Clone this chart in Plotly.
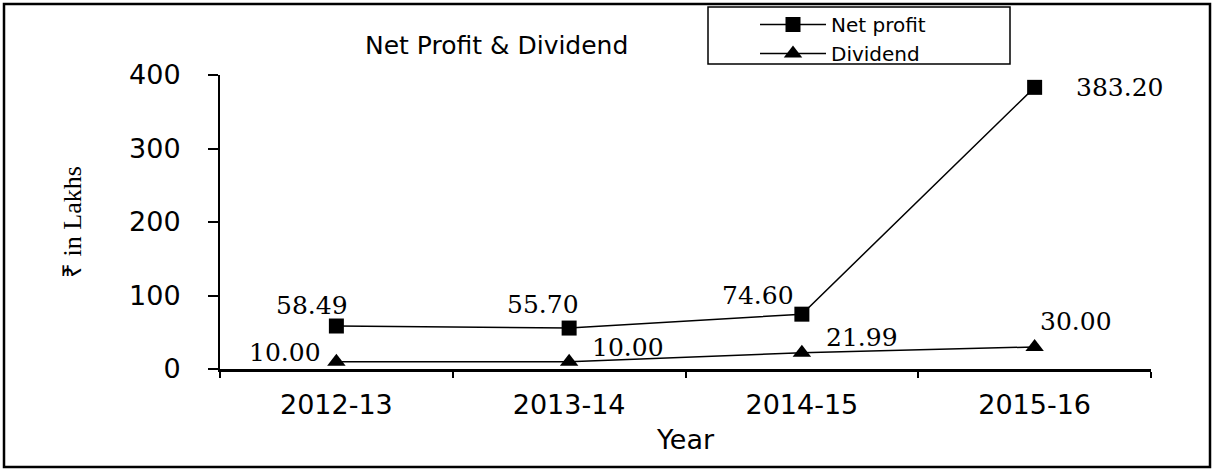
import plotly.graph_objects as go

years = ["2012-13", "2013-14", "2014-15", "2015-16"]
net_profit = [58.49, 55.70, 74.60, 383.20]
dividend = [10.00, 10.00, 21.99, 30.00]
y_ticks = [0, 100, 200, 300, 400]

W, H = 1214, 469
L, R, T, B = 220, 63, 75, 100
pw, ph = W - L - R, H - T - B

def px_x(p):
    return (p - L) / pw

def px_y(p):
    return (H - B - p) / ph

SANS = "DejaVu Sans"
SERIF = "DejaVu Serif"

# label offsets (styling): (xshift, yshift) relative to the marker
np_shift = [(-24, 21), (-26, 24), (-44, 19), (85, 0)]
dv_shift = [(-51, 9), (59, 14), (60, 15), (41, 25)]

fig = go.Figure()
fig.add_trace(go.Scatter(
    x=years, y=net_profit, name="Net profit", mode="lines+markers",
    line=dict(color="black", width=1.5),
    marker=dict(symbol="square", size=15, color="black"),
))
fig.add_trace(go.Scatter(
    x=years, y=dividend, name="Dividend", mode="lines+markers",
    line=dict(color="black", width=1.5),
    marker=dict(symbol="triangle-up", size=16, color="black"),
))

annotations = []
for series, shifts in ((net_profit, np_shift), (dividend, dv_shift)):
    for xv, yv, (dx, dy) in zip(years, series, shifts):
        annotations.append(dict(
            x=xv, y=yv, xref="x", yref="y", text=f"{yv:.2f}", showarrow=False,
            xanchor="center", yanchor="middle", xshift=dx, yshift=dy,
            font=dict(family=SERIF, size=25, color="black"),
        ))

annotations.append(dict(
    text="Net Profit & Dividend", xref="paper", yref="paper",
    x=px_x(496), y=px_y(45), xanchor="center", yanchor="middle",
    showarrow=False, font=dict(family=SANS, size=25, color="black"),
))

fig.update_layout(
    width=W, height=H,
    margin=dict(l=L, r=R, t=T, b=B, autoexpand=False),
    paper_bgcolor="white", plot_bgcolor="white",
    font=dict(family=SANS, color="black"),
    showlegend=True,
    legend=dict(
        x=px_x(755), y=px_y(5), xanchor="left", yanchor="top",
        borderwidth=0, bgcolor="rgba(0,0,0,0)",
        font=dict(family=SANS, size=20, color="black"),
        tracegroupgap=0, itemwidth=66,
    ),
    xaxis=dict(
        type="category", categoryorder="array", categoryarray=years,
        showline=True, linecolor="black", linewidth=3,
        ticks="outside", ticklen=6, tickwidth=2, tickcolor="black",
        tickson="boundaries", showgrid=False, zeroline=False,
        tickfont=dict(family=SANS, size=27, color="black"),
        ticklabelstandoff=10,
        title=dict(text="Year", font=dict(family=SANS, size=27, color="black"), standoff=11),
        range=[-0.5, 3.5],
    ),
    yaxis=dict(
        range=[0, 400], tickvals=y_ticks,
        showline=True, linecolor="black", linewidth=2,
        ticks="outside", ticklen=10, tickwidth=1.5, tickcolor="black",
        showgrid=False, zeroline=False,
        tickfont=dict(family=SANS, size=27, color="black"),
        ticklabelstandoff=22,
        title=dict(text="₹ in Lakhs", font=dict(family="Liberation Serif", size=26, color="black"), standoff=40),
    ),
    annotations=annotations,
    shapes=[
        dict(type="rect", xref="paper", yref="paper",
             x0=px_x(4), x1=px_x(1210), y0=px_y(467), y1=px_y(4),
             line=dict(color="black", width=2.5), fillcolor="rgba(0,0,0,0)", layer="below"),
        dict(type="rect", xref="paper", yref="paper",
             x0=px_x(708), x1=px_x(1010), y0=px_y(64), y1=px_y(7),
             line=dict(color="black", width=1.5), fillcolor="white", layer="below"),
    ],
)

fig.write_html(
    "out.html",
    config={"displayModeBar": False},
    post_script="document.body.style.margin='0';document.body.style.overflow='hidden';",
)
